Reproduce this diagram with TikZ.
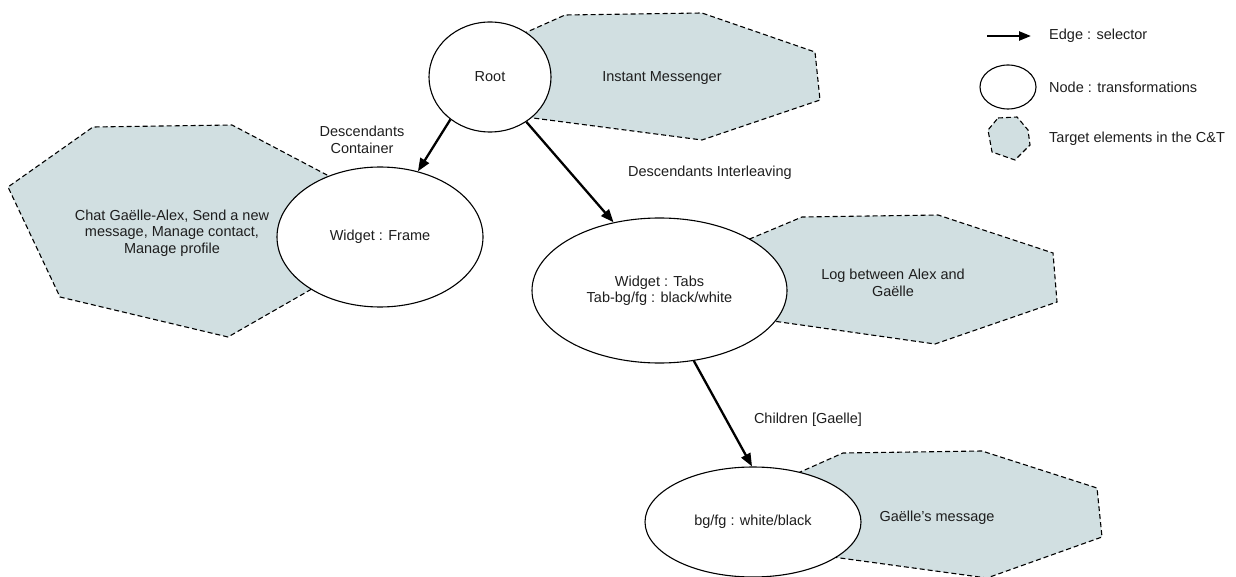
\documentclass[tikz,border=0pt]{standalone}
\usepackage{fontspec}
\setmainfont{Liberation Sans}
\usetikzlibrary{shapes.geometric,arrows.meta}
\definecolor{targetfill}{RGB}{209,223,225}
\definecolor{inkgray}{RGB}{30,30,30}
\tikzset{
  transfo/.style={ellipse, draw=black, fill=white, line width=1.1pt, inner sep=0pt,
    text=inkgray, align=center},
  target/.style={draw=black, fill=targetfill, line width=1.1pt, dash pattern=on 5pt off 3pt},
  selector/.style={line width=2.3pt, -{Triangle[length=13pt,width=10pt]}},
  lbl/.style={text=inkgray, align=center, inner sep=0pt},
  legendtxt/.style={text=inkgray, anchor=west, inner sep=0pt}
}
\begin{document}
\begin{tikzpicture}[x=1pt,y=-1pt,font=\fontsize{14.5}{16.5}\selectfont]
\useasboundingbox (0,0) rectangle (1236,577);

% target element regions (drawn first, partly covered by the nodes)
\draw[target] (508,40.5) -- (565,15) -- (702,13) -- (815,52) -- (820,100) -- (702,140)
  -- (510,115) -- (490,77) -- cycle;
\draw[target] (355.5,190) -- (232,125) -- (93,127) -- (8,187) -- (60,297) -- (228,337)
  -- (334.6,275.9) -- (380,237) -- cycle;
\draw[target] (727,248.5) -- (802,217) -- (938,215) -- (1053,253) -- (1057,302) -- (935,344)
  -- (733.5,315.4) -- (659.5,290.5) -- cycle;
\draw[target] (775.5,483) -- (843,453) -- (982,451) -- (1097,488) -- (1102,537) -- (987,578)
  -- (796,552) -- (753,522) -- cycle;

% region captions
\node[lbl] (tIM) at (662,78) {Instant Messenger};
\node[lbl] (tChat) at (172,233) {Chat Gaëlle-Alex, Send a new\\message, Manage contact,\\Manage profile};
\node[lbl] (tLog) at (893,283) {Log between Alex and\\Gaëlle};
\node[lbl] (tMsg) at (937,518) {Gaëlle's message};

% transformation nodes
\node[transfo, minimum width=122pt, minimum height=110pt] (root) at (490,77) {Root};
\node[transfo, minimum width=206pt, minimum height=140pt] (frame) at (380,237) {Widget : Frame};
\node[transfo, minimum width=255pt, minimum height=145pt] (tabs) at (659.5,290.5) {Widget : Tabs\\Tab-bg/fg : black/white};
\node[transfo, minimum width=216pt, minimum height=110pt] (bgfg) at (753,522) {bg/fg : white/black};

% selectors
\draw[selector] (root.227) -- (frame.60);
\draw[selector] (root.309) -- (tabs.124);
\draw[selector] (tabs.296) -- (bgfg.91);

\node[lbl] (eCont) at (362,140) {Descendants\\Container};
\node[lbl] (eInter) at (710,173) {Descendants Interleaving};
\node[lbl] (eChild) at (808,420) {Children [Gaelle]};

% legend
\coordinate (lgA) at (987,36);
\coordinate (lgB) at (1031,36);
\draw[selector, -{Triangle[length=12pt,width=9pt]}] (lgA) -- (lgB);
\node[legendtxt] (lgEdge) at (1049,36) {Edge : selector};
\node[transfo, minimum width=56pt, minimum height=44pt] (lgNode) at (1008,87) {};
\node[legendtxt] (lgNodeT) at (1049,87) {Node : transformations};
\draw[target] (998,118) -- (1017,117) -- (1028,130) -- (1030,145) -- (1015,160) -- (992,152) -- (988,130) -- cycle;
\node[legendtxt] (lgTarget) at (1049,139) {Target elements in the C\&T};
\end{tikzpicture}
\end{document}
